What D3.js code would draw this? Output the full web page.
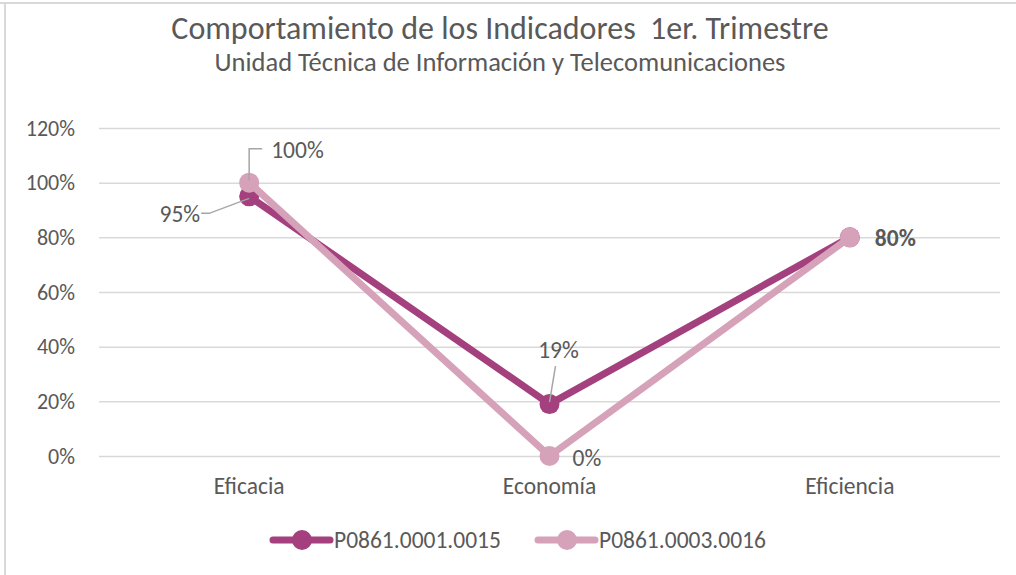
<!DOCTYPE html>
<html>
<head>
<meta charset="utf-8">
<script src="https://cdn.jsdelivr.net/npm/d3@7"></script>
<style>
  body { margin: 0; background: #fff; }
  svg text { font-family: Carlito, "Liberation Sans Narrow", "Open Sans", sans-serif; fill: #595959; }
</style>
</head>
<body>
<svg id="chart" width="1016" height="575"></svg>
<script>
// chart data
const categories = ["Eficacia", "Economía", "Eficiencia"];
const seriesNames = ["P0861.0001.0015", "P0861.0003.0016"];
const serie1 = [0.95, 0.19, 0.80];
const serie2 = [1.00, 0.00, 0.80];
const yTicks = [0, 0.2, 0.4, 0.6, 0.8, 1.0, 1.2];
const colors = ["#A3407D", "#D5A2B9"];

const svg = d3.select("#chart");
const width = 1016, height = 575;
const margin = {top: 128, right: 16, bottom: 119, left: 99};

// outer frame (only top and left visible)
svg.append("line").attr("x1", 0).attr("x2", width).attr("y1", 3).attr("y2", 3)
    .attr("stroke", "#d9d9d9").attr("stroke-width", 2);
svg.append("line").attr("x1", 5).attr("x2", 5).attr("y1", 3).attr("y2", height)
    .attr("stroke", "#d9d9d9").attr("stroke-width", 2);

// titles
svg.append("text").attr("x", 500).attr("y", 39).attr("text-anchor", "middle")
    .attr("xml:space", "preserve")
    .style("font-size", "32px").text("Comportamiento de los Indicadores  1er. Trimestre");
svg.append("text").attr("x", 500).attr("y", 71).attr("text-anchor", "middle")
    .style("font-size", "26.5px").text("Unidad Técnica de Información y Telecomunicaciones");

const x = d3.scaleBand().domain(categories)
    .range([margin.left, width - margin.right]);
const y = d3.scaleLinear().domain([0, 1.2])
    .range([height - margin.bottom, margin.top]);

// gridlines + y labels
const yAxis = svg.append("g")
    .attr("transform", `translate(${margin.left},0)`)
    .call(d3.axisLeft(y).tickValues(yTicks).tickFormat(d3.format(".0%"))
        .tickSize(-(width - margin.left - margin.right)).tickPadding(24));
yAxis.select(".domain").remove();
yAxis.selectAll(".tick line").attr("stroke", "#d9d9d9").attr("stroke-width", 1.5);
yAxis.selectAll(".tick text").style("font-size", "22px").style("font-family", null).attr("fill", "#595959");

// x labels
const xAxis = svg.append("g")
    .attr("transform", `translate(0,${height - margin.bottom})`)
    .call(d3.axisBottom(x).tickSize(0).tickPadding(21));
xAxis.select(".domain").remove();
xAxis.selectAll(".tick text").style("font-size", "23.5px").style("font-family", null).attr("fill", "#595959");

const cx = d => x(d) + x.bandwidth() / 2;
const line = d3.line().x((d, i) => cx(categories[i])).y(d => y(d));

[serie1, serie2].forEach((s, k) => {
    svg.append("path").datum(s)
        .attr("fill", "none").attr("stroke", colors[k]).attr("stroke-width", 7)
        .attr("stroke-linejoin", "round").attr("d", line);
    svg.selectAll(null).data(s).enter().append("circle")
        .attr("cx", (d, i) => cx(categories[i])).attr("cy", d => y(d))
        .attr("r", 10).attr("fill", colors[k]);
});

// data labels with leader lines
const leader = "#a6a6a6";
const fmt = d3.format(".0%");
const lab = svg.append("g").style("font-size", "23.5px");
// 95%
const p95 = [cx(categories[0]), y(serie1[0])];
svg.append("polyline").attr("points", `${p95[0]},${p95[1] + 2} ${p95[0] - 40},${p95[1] + 17} ${p95[0] - 48},${p95[1] + 17}`)
    .attr("fill", "none").attr("stroke", leader).attr("stroke-width", 1.5);
lab.append("text").attr("x", p95[0] - 49).attr("y", p95[1] + 26).attr("text-anchor", "end").text(fmt(serie1[0]));
// 100%
const p100 = [cx(categories[0]), y(serie2[0])];
svg.append("polyline").attr("points", `${p100[0]},${p100[1] - 2} ${p100[0]},${p100[1] - 34} ${p100[0] + 13},${p100[1] - 34}`)
    .attr("fill", "none").attr("stroke", leader).attr("stroke-width", 1.5);
lab.append("text").attr("x", p100[0] + 22).attr("y", p100[1] - 25).text(fmt(serie2[0]));
// 19%
const p19 = [cx(categories[1]), y(serie1[1])];
svg.append("line").attr("x1", p19[0]).attr("y1", p19[1] - 2).attr("x2", p19[0] + 6).attr("y2", p19[1] - 38)
    .attr("stroke", leader).attr("stroke-width", 1.5);
lab.append("text").attr("x", p19[0] + 9).attr("y", p19[1] - 46).attr("text-anchor", "middle").text(fmt(serie1[1]));
// 0%
const p0 = [cx(categories[1]), y(serie2[1])];
lab.append("text").attr("x", p0[0] + 23).attr("y", p0[1] + 10).text(fmt(serie2[1]));
// 80% (both series overlap)
const p80 = [cx(categories[2]), y(serie1[2])];
lab.append("text").attr("x", p80[0] + 25).attr("y", p80[1] + 9)
    .style("font-weight", "bold").attr("fill", "#404040").text(fmt(serie1[2]));

// legend
const legend = svg.append("g").attr("transform", "translate(0,540)");
const legX = [273, 538];
seriesNames.forEach((name, k) => {
    const g = legend.append("g").attr("transform", `translate(${legX[k]},0)`);
    g.append("line").attr("x1", 0).attr("x2", 57).attr("stroke", colors[k])
        .attr("stroke-width", 7).attr("stroke-linecap", "round");
    g.append("circle").attr("cx", 29).attr("r", 10).attr("fill", colors[k]);
    g.append("text").attr("x", 61).attr("y", 8).style("font-size", "23.5px").text(name);
});
</script>
</body>
</html>
